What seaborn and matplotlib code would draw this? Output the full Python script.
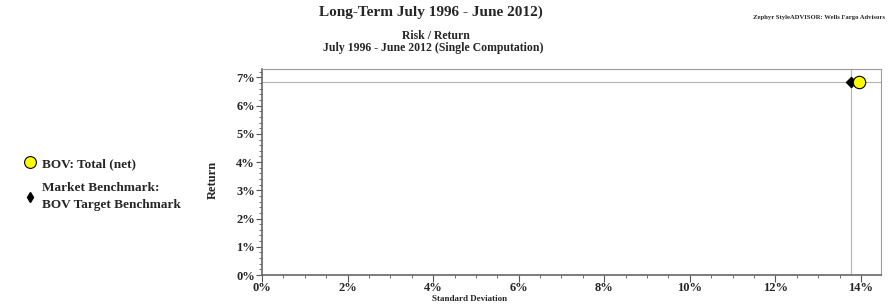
import pandas as pd
import matplotlib.pyplot as plt
import matplotlib.ticker as mticker
from matplotlib.lines import Line2D
import seaborn as sns

# values
names = ["BOV: Total (net)", "Market Benchmark:\nBOV Target Benchmark"]
std_dev = [13.95, 13.76]
returns = [6.85, 6.85]
markers = ["o", "D"]
colors = ["#ffff00", "#000000"]
sizes = [80, 28]

data = pd.DataFrame({"name": names, "std": std_dev, "ret": returns})

sns.set_style("white")
plt.rcParams["font.family"] = ["Liberation Serif", "DejaVu Serif"]
plt.rcParams["font.weight"] = "bold"

fig = plt.figure(figsize=(8.91, 3.06), dpi=100)
ax = fig.add_axes([262 / 891, 1 - 275 / 306, (881 - 262) / 891, (275 - 69) / 306])

# crosshair at the benchmark
ax.axvline(std_dev[1], color="#b4b4b4", lw=0.8, zorder=1)
ax.axhline(returns[1], color="#b4b4b4", lw=0.8, zorder=1)

# benchmark first so the fund circle sits on top
for i in [1, 0]:
    sns.scatterplot(x=[std_dev[i]], y=[returns[i]], marker=markers[i], color=colors[i],
                    s=sizes[i], edgecolor="black", linewidth=0.8, ax=ax, zorder=3)

ax.set_xlim(0, 14.47)
ax.set_ylim(0, 7.3)
ax.xaxis.set_major_locator(mticker.MultipleLocator(2))
ax.xaxis.set_minor_locator(mticker.MultipleLocator(0.5))
ax.yaxis.set_major_locator(mticker.MultipleLocator(1))
ax.yaxis.set_minor_locator(mticker.MultipleLocator(0.2))
ax.xaxis.set_major_formatter(mticker.FuncFormatter(lambda v, p: f"{v:.0f}%"))
ax.yaxis.set_major_formatter(mticker.FuncFormatter(lambda v, p: f"{v:.0f}%"))
ax.tick_params(which="major", direction="out", length=4, width=0.8, color="#555555",
               labelsize=9, pad=1, bottom=True, left=True)
ax.tick_params(which="minor", direction="out", length=2, width=0.6, color="#555555",
               bottom=True, left=True)
ax.tick_params(axis="x", which="major", length=5, pad=0)

for side in ["left", "bottom"]:
    ax.spines[side].set_color("#666666")
    ax.spines[side].set_linewidth(1.2)
for side in ["top", "right"]:
    ax.spines[side].set_color("#9a9a9a")
    ax.spines[side].set_linewidth(0.8)

ax.set_xlabel("")
ax.set_ylabel("")
fig.text(470 / 891, 1 - 299 / 306, "Standard Deviation", ha="center", va="center",
         fontsize=6.5, fontweight="bold")
fig.text(213 / 891, 1 - 180 / 306, "Return", ha="center", va="center", rotation=90,
         fontsize=9, fontweight="bold")

# titles
fig.text(431 / 891, 1 - 12 / 306, "Long-Term July 1996 - June 2012)", ha="center",
         va="center", fontsize=11, fontweight="bold")
fig.text(436 / 891, 1 - 36 / 306, "Risk / Return", ha="center", va="center",
         fontsize=8.5, fontweight="bold")
fig.text(433 / 891, 1 - 48 / 306, "July 1996 - June 2012 (Single Computation)",
         ha="center", va="center", fontsize=8.5, fontweight="bold")
fig.text(885 / 891, 1 - 17 / 306, "Zephyr StyleADVISOR: Wells Fargo Advisors",
         ha="right", va="center", fontsize=4.8, fontweight="bold")

# legend on the left
handles = [
    Line2D([], [], marker="o", ls="", markerfacecolor=colors[0], markeredgecolor="black",
           markersize=8.5, markeredgewidth=0.8),
    Line2D([], [], marker="d", ls="", markerfacecolor="black", markeredgecolor="black",
           markersize=5.5),
]
leg = fig.legend(handles, names, loc="upper left", bbox_to_anchor=(10 / 891, 1 - 146 / 306),
                 frameon=False, handletextpad=0.2, labelspacing=0.9,
                 handlelength=1.3, prop={"weight": "bold", "size": 9.5})
for t in leg.get_texts():
    t.set_linespacing(1.6)

fig.savefig("out.png", dpi=100)
